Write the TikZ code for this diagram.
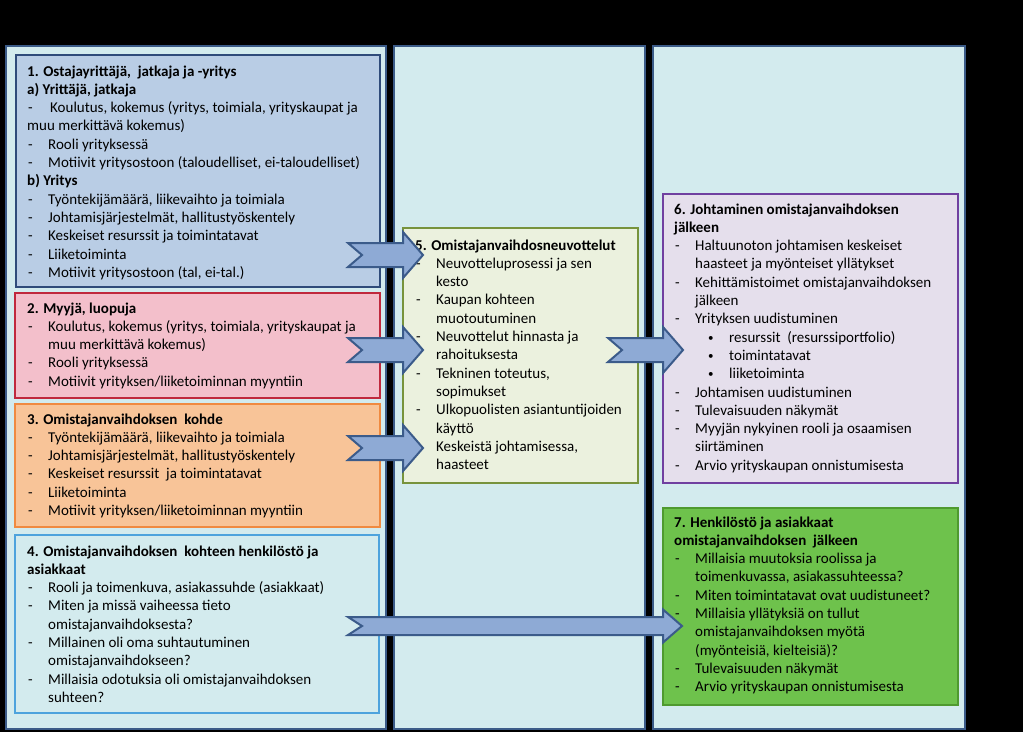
\documentclass[tikz,border=0pt]{standalone}
\usepackage{fontspec}
\setmainfont{Carlito}
\definecolor{colfill}{HTML}{D3EBEE}
\definecolor{colborder}{HTML}{3B5B88}
\definecolor{bAfill}{HTML}{B9CDE5}
\definecolor{bAborder}{HTML}{2F4B7A}
\definecolor{bBfill}{HTML}{F3BFCB}
\definecolor{bBborder}{HTML}{C0283D}
\definecolor{bCfill}{HTML}{F8C498}
\definecolor{bCborder}{HTML}{F08A40}
\definecolor{bDborder}{HTML}{4DA3DD}
\definecolor{bEfill}{HTML}{EBF1DE}
\definecolor{bEborder}{HTML}{77933C}
\definecolor{bFfill}{HTML}{E5DFEC}
\definecolor{bFborder}{HTML}{7040A0}
\definecolor{bGfill}{HTML}{6EC24C}
\definecolor{bGborder}{HTML}{4F9A2F}
\definecolor{arrfill}{HTML}{8EAAD5}
\definecolor{arrborder}{HTML}{3B5B8A}
\tikzset{
  colbox/.style={draw=colborder, fill=colfill, line width=2.5pt, rectangle, inner sep=0pt, outer sep=0pt, anchor=north west},
  infobox/.style={rectangle, line width=2.5pt, inner sep=0pt, outer sep=0pt, anchor=north west},
  txt/.style={anchor=base west, inner sep=0pt},
  blockarrow/.style={draw=arrborder, fill=arrfill, line width=2pt, line join=miter}
}
\newcommand\dsh{\makebox[21pt][l]{\hspace{1pt}-}}
\newcommand\ind{\hspace*{21pt}}
\newcommand\bul{\hspace*{34pt}\makebox[21pt][l]{\raisebox{1pt}{\fontsize{11}{11}\selectfont •}}}
\newcommand\boxtext[1]{\parbox[t]{400pt}{\fontsize{15}{18.3}\selectfont\raggedright\lineskiplimit=-100pt\relax #1}}
\newcommand\blockarr[5]{%
  \draw[blockarrow] ([yshift=#3]#1) -- ([xshift=-#5,yshift=#3]#2) -- ([xshift=-#5,yshift=#4]#2) -- (#2)
    -- ([xshift=-#5,yshift=-#4]#2) -- ([xshift=-#5,yshift=-#3]#2) -- ([yshift=-#3]#1) -- ([xshift=14pt]#1) -- cycle;}
\begin{document}
\begin{tikzpicture}[x=1pt,y=-1pt]
\useasboundingbox (0,0) rectangle (1023,732);
\fill[black] (0,0) rectangle (1023,732);
% columns
\node[colbox, minimum width=380pt, minimum height=683pt] (col1) at (6,46) {};
\node[colbox, minimum width=251pt, minimum height=683pt] (col2) at (394,46) {};
\node[colbox, minimum width=312pt, minimum height=683pt] (col3) at (653,46) {};
% boxes
\node[infobox, draw=bAborder, fill=bAfill, minimum width=364pt, minimum height=232pt] (b1) at (16,55) {};
\node[infobox, draw=bBborder, fill=bBfill, minimum width=365pt, minimum height=105pt] (b2) at (15,293) {};
\node[infobox, draw=bCborder, fill=bCfill, minimum width=365pt, minimum height=123pt] (b3) at (15,404) {};
\node[infobox, draw=bDborder, fill=colfill, minimum width=364pt, minimum height=178pt] (b4) at (15,535) {};
\node[infobox, draw=bEborder, fill=bEfill, minimum width=235pt, minimum height=255pt] (b5) at (403,228) {};
\node[infobox, draw=bFborder, fill=bFfill, minimum width=295pt, minimum height=289pt] (b6) at (663,194) {};
\node[infobox, draw=bGborder, fill=bGfill, minimum width=295pt, minimum height=197pt] (b7) at (663,508) {};
% texts
\node[txt] (t1) at (27,76) {\boxtext{%
\textbf{1. Ostajayrittäjä,\ \ jatkaja ja -yritys}\\
\textbf{a) Yrittäjä, jatkaja}\\
\dsh\hspace{2pt}Koulutus, kokemus (yritys, toimiala, yrityskaupat ja\\
muu merkittävä kokemus)\\
\dsh Rooli yrityksessä\\
\dsh Motiivit yritysostoon (taloudelliset, ei-taloudelliset)\\
\textbf{b) Yritys}\\
\dsh Työntekijämäärä, liikevaihto ja toimiala\\
\dsh Johtamisjärjestelmät, hallitustyöskentely\\
\dsh Keskeiset resurssit ja toimintatavat\\
\dsh Liiketoiminta\\
\dsh Motiivit yritysostoon (tal, ei-tal.)}};
\node[txt] (t2) at (27,313) {\boxtext{%
\textbf{2. Myyjä, luopuja}\\
\dsh Koulutus, kokemus (yritys, toimiala, yrityskaupat ja\\
\ind muu merkittävä kokemus)\\
\dsh Rooli yrityksessä\\
\dsh Motiivit yrityksen/liiketoiminnan myyntiin}};
\node[txt] (t3) at (27,424) {\boxtext{%
\textbf{3. Omistajanvaihdoksen\ \ kohde}\\
\dsh Työntekijämäärä, liikevaihto ja toimiala\\
\dsh Johtamisjärjestelmät, hallitustyöskentely\\
\dsh Keskeiset resurssit\ \ ja toimintatavat\\
\dsh Liiketoiminta\\
\dsh Motiivit yrityksen/liiketoiminnan myyntiin}};
\node[txt] (t4) at (27,556) {\boxtext{%
\textbf{4. Omistajanvaihdoksen\ \ kohteen henkilöstö ja}\\
\textbf{asiakkaat}\\
\dsh Rooli ja toimenkuva, asiakassuhde (asiakkaat)\\
\dsh Miten ja missä vaiheessa tieto\\
\ind omistajanvaihdoksesta?\\
\dsh Millainen oli oma suhtautuminen\\
\ind omistajanvaihdokseen?\\
\dsh Millaisia odotuksia oli omistajanvaihdoksen\\
\ind suhteen?}};
\node[txt] (t5) at (415,250) {\boxtext{%
\textbf{5. Omistajanvaihdosneuvottelut}\\
\dsh Neuvotteluprosessi ja sen\\
\ind kesto\\
\dsh Kaupan kohteen\\
\ind muotoutuminen\\
\dsh Neuvottelut hinnasta ja\\
\ind rahoituksesta\\
\dsh Tekninen toteutus,\\
\ind sopimukset\\
\dsh Ulkopuolisten asiantuntijoiden\\
\ind käyttö\\
\dsh Keskeistä johtamisessa,\\
\ind haasteet}};
\node[txt] (t6) at (674,214) {\boxtext{%
\textbf{6. Johtaminen omistajanvaihdoksen}\\
\textbf{jälkeen}\\
\dsh Haltuunoton johtamisen keskeiset\\
\ind haasteet ja myönteiset yllätykset\\
\dsh Kehittämistoimet omistajanvaihdoksen\\
\ind jälkeen\\
\dsh Yrityksen uudistuminen\\
\bul resurssit\ \ (resurssiportfolio)\\
\bul toimintatavat\\
\bul liiketoiminta\\
\dsh Johtamisen uudistuminen\\
\dsh Tulevaisuuden näkymät\\
\dsh Myyjän nykyinen rooli ja osaamisen\\
\ind siirtäminen\\
\dsh Arvio yrityskaupan onnistumisesta}};
\node[txt] (t7) at (674,527) {\boxtext{%
\textbf{7. Henkilöstö ja asiakkaat}\\
\textbf{omistajanvaihdoksen\ \ jälkeen}\\
\dsh Millaisia muutoksia roolissa ja\\
\ind toimenkuvassa, asiakassuhteessa?\\
\dsh Miten toimintatavat ovat uudistuneet?\\
\dsh Millaisia yllätyksiä on tullut\\
\ind omistajanvaihdoksen myötä\\
\ind (myönteisiä, kielteisiä)?\\
\dsh Tulevaisuuden näkymät\\
\dsh Arvio yrityskaupan onnistumisesta}};
% arrow end points
\coordinate (a1s) at (348,255); \coordinate (a1e) at (423,255);
\coordinate (a2s) at (348,350); \coordinate (a2e) at (423,350);
\coordinate (a3s) at (348,448); \coordinate (a3e) at (423,448);
\coordinate (a4s) at (608,350); \coordinate (a4e) at (683,350);
\coordinate (a5s) at (348,626); \coordinate (a5e) at (682,626);
\blockarr{a1s}{a1e}{12pt}{23pt}{20pt}
\blockarr{a2s}{a2e}{12pt}{23pt}{20pt}
\blockarr{a3s}{a3e}{12pt}{23pt}{20pt}
\blockarr{a4s}{a4e}{12pt}{23pt}{20pt}
\blockarr{a5s}{a5e}{9pt}{16.5pt}{19pt}
\end{tikzpicture}
\end{document}
